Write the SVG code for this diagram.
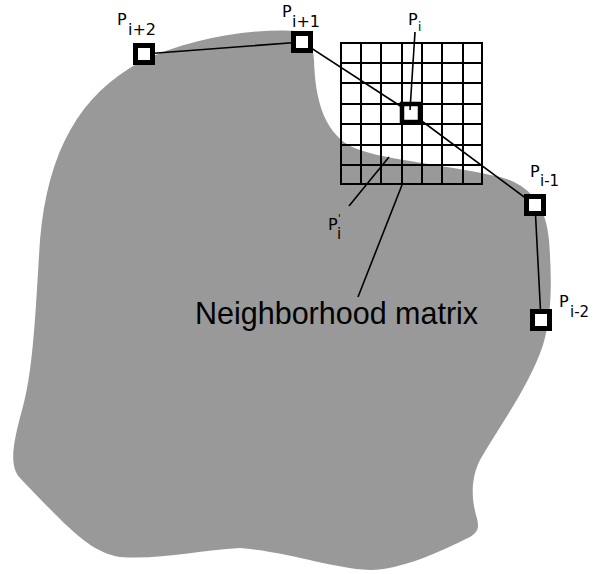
<svg xmlns="http://www.w3.org/2000/svg" width="595" height="574" viewBox="0 0 595 574">
<style>
.lbl{font-family:"DejaVu Sans",sans-serif;font-size:16px;fill:#000}
.sub{font-family:"DejaVu Sans",sans-serif;font-size:15px;fill:#000}
.pt{fill:#fff;stroke:#000;stroke-width:5}
.edge{stroke:#000;stroke-width:1.6;fill:none}
.grid{stroke:#000;stroke-width:2;fill:none}
</style>
<rect width="595" height="574" fill="#fff"/>
<g id="region">
<path fill="#999" d="M300 31 C310 33 313 45 314 60 C315 95 322 130 350 146 C365 153 385 157 410 161 C440 166 470 170 500 177 C530 185 546 205 549 240 C552 280 552 315 543 345 C530 385 500 425 480 460 C470 480 472 500 476 515 C480 528 478 532 470 537 C440 552 400 570 370 570 C330 568 290 552 240 548 C200 550 160 560 120 557 C90 552 70 530 20 478 C8 465 14 440 22 410 C34 370 36 300 40 240 C48 150 80 95 140 62 C190 38 250 28 300 31 Z"/>
</g>
<g id="matrix" class="grid">
<rect x="341" y="43" width="141" height="141"/>
<path d="M361 43V184M381 43V184M402 43V184M422 43V184M442 43V184M463 43V184M341 63H482M341 83H482M341 104H482M341 124H482M341 145H482M341 165H482"/>
</g>
<g id="connectors" class="edge">
<path d="M144 54 L302 42 L411 113 L535 205 L541 320"/>
</g>
<g id="P_i+2"><rect class="pt" x="135.5" y="45.5" width="17" height="17"/><text class="lbl" x="117" y="25">P<tspan x="128" y="35">i+2</tspan></text></g>
<g id="P_i+1"><rect class="pt" x="293.5" y="33.5" width="17" height="17"/><text class="lbl" x="282" y="17">P<tspan x="292" y="27">i+1</tspan></text></g>
<g id="P_i"><rect class="pt" x="402" y="104" width="18" height="18" style="stroke-width:4.5"/><text class="lbl" x="408" y="25">P<tspan class="sub" x="418" y="31" style="font-size:12px">i</tspan></text></g>
<g id="P_i-1"><rect class="pt" x="526.5" y="196.5" width="17" height="17"/><text class="lbl" x="530" y="177">P<tspan x="540" y="186" style="font-size:15px">i-1</tspan></text></g>
<g id="P_i-2"><rect class="pt" x="532.5" y="311.5" width="17" height="17"/><text class="lbl" x="559" y="307">P<tspan x="570" y="317" style="font-size:15px">i-2</tspan></text></g>
<g id="leaders" class="edge">
<path d="M415 32 L410 110"/>
<path d="M349 206 L389 157"/>
<path d="M402 185 L358 297"/>
</g>
<g id="P_prime"><text class="lbl" x="328" y="230">P<tspan x="338" y="222" style="font-size:10px">'</tspan><tspan x="337" y="239" style="font-size:15px">i</tspan></text></g>
<g id="caption"><text x="195" y="324" font-family="Liberation Sans, Arial, sans-serif" font-size="30.5" fill="#000">Neighborhood matrix</text></g>
</svg>
